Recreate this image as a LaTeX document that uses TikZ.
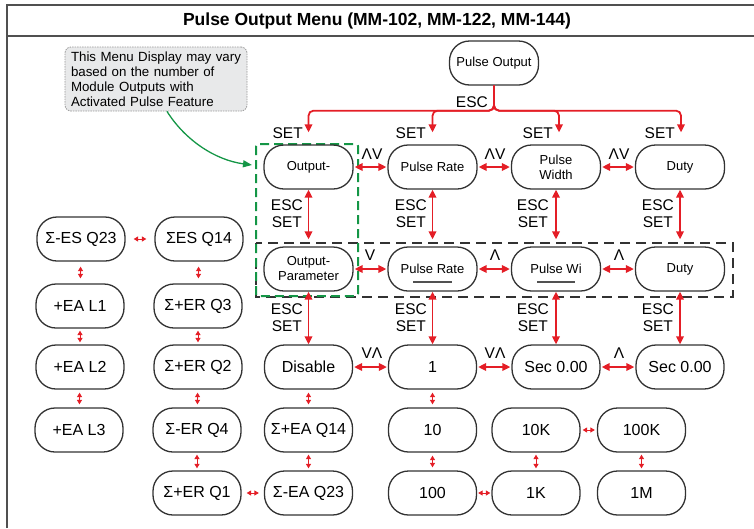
\documentclass[tikz,border=0pt]{standalone}
\usepackage{fontspec}
\setmainfont{Liberation Sans}
\usetikzlibrary{arrows.meta,calc}
\definecolor{ared}{RGB}{228,30,38}
\definecolor{boxline}{RGB}{50,50,50}
\definecolor{dgreen}{RGB}{20,150,70}
\definecolor{framec}{RGB}{80,80,80}
\definecolor{callfill}{RGB}{232,233,234}
\begin{document}
\begin{tikzpicture}[x=1pt,y=-1pt,
  menu/.style={draw=boxline, line width=1.3pt, rounded corners=20pt, minimum width=89pt, minimum height=44pt, align=center, font=\fontsize{13}{15}\selectfont, inner sep=0pt},
  val/.style={menu, font=\fontsize{16}{18}\selectfont, minimum width=88pt},
  lbl/.style={font=\fontsize{15.5}{17}\selectfont, inner sep=0pt, align=center},
  arr/.style={draw=ared, line width=1.8pt, {Triangle[length=8pt,width=7.5pt]}-{Triangle[length=8pt,width=7.5pt]}, shorten >=1pt, shorten <=1pt},
  oarr/.style={draw=ared, line width=1.8pt, -{Triangle[length=8pt,width=7.5pt]}},
  sarr/.style={draw=ared, line width=1pt, {Triangle[length=4.5pt,width=5pt]}-{Triangle[length=4.5pt,width=5pt]}},
  call/.style={draw=gray!80, dash pattern=on 1.5pt off 1pt, line width=0.8pt, fill=callfill, rounded corners=6pt, minimum width=182pt, minimum height=64pt, text width=178pt, align=left, inner xsep=2pt, font=\fontsize{13.3}{15}\selectfont}
]
\useasboundingbox (0,0) rectangle (754,528);
% frame
\draw[framec, line width=2pt] (7,528) -- (7,5) -- (754,5);
\draw[framec, line width=2pt] (7,36) -- (754,36);
\node[font=\bfseries\fontsize{17.5}{20}\selectfont, inner sep=0pt] (title) at (377,21) {Pulse Output Menu (MM-102, MM-122, MM-144)};

% dashed groups
\draw[boxline, line width=2pt, dash pattern=on 10pt off 6pt] (256,243) rectangle (733,297);
\draw[dgreen, line width=2pt, dash pattern=on 9pt off 5pt, rounded corners=2pt] (256,144) rectangle (358,296);

% callout
\node[call] (note) at (156,79) {\hspace*{4pt}This Menu Display may vary\\\hspace*{4pt}based on the number of\\\hspace*{4pt}Module Outputs with\\\hspace*{4pt}Activated Pulse Feature};
\coordinate (gtip) at (252,165);
\draw[dgreen, line width=1.3pt, -{Triangle[length=9pt,width=7pt]}] ([xshift=11pt]note.south) .. controls (185,140) and (215,160) .. (gtip);

% menu nodes
\node[menu] (po) at (494,63) {Pulse Output};
\node[menu] (out1) at (308.5,167) {Output-};
\node[menu] (pr1) at (432.5,167) {Pulse Rate};
\node[menu] (pw1) at (556,167) {Pulse\\Width};
\node[menu] (du1) at (680,167) {Duty};
\node[menu] (out2) at (308.5,269) {Output-\\Parameter};
\node[menu] (pr2) at (432.5,269) {Pulse Rate};
\node[menu] (pw2) at (556,269) {Pulse Wi};
\node[menu] (du2) at (680,269) {Duty};
\draw[boxline!85, line width=1.3pt] ([xshift=-19.5pt,yshift=-13pt]pr2.center) -- ([xshift=19.5pt,yshift=-13pt]pr2.center);
\draw[boxline!85, line width=1.3pt] ([xshift=-19pt,yshift=-13pt]pw2.center) -- ([xshift=19pt,yshift=-13pt]pw2.center);

% value nodes
\node[val] (dis) at (308.5,367) {Disable};
\node[val] (v1) at (432.5,367) {1};
\node[val] (sec1) at (556,367) {Sec 0.00};
\node[val] (sec2) at (680,367) {Sec 0.00};
\node[val] (v10) at (432.5,430) {10};
\node[val] (v10k) at (536,430) {10K};
\node[val] (v100k) at (641.5,430) {100K};
\node[val] (v100) at (432.5,493) {100};
\node[val] (v1k) at (536,493) {1K};
\node[val] (v1m) at (641.5,493) {1M};
\node[val] (eaq14) at (308.5,430) {Σ+EA Q14};
\node[val] (eaq23) at (308.5,493) {Σ-EA Q23};
\node[val] (erq4) at (197,430) {Σ-ER Q4};
\node[val] (erq1) at (197,493) {Σ+ER Q1};
\node[val] (erq2) at (198,367) {Σ+ER Q2};
\node[val] (erq3) at (198,306) {Σ+ER Q3};
\node[val] (esq14) at (199,239) {ΣES Q14};
\node[val] (esq23) at (81,239) {Σ-ES Q23};
\node[val] (l1) at (80,306) {+EA L1};
\node[val] (l2) at (80,367) {+EA L2};
\node[val] (l3) at (79,430) {+EA L3};

% Pulse Output branches
\draw[oarr, rounded corners=5pt] (po.south) -- ++(0,25) -| ([yshift=12pt]out1.north);
\draw[oarr, rounded corners=5pt] (po.south) -- ++(0,25) -| ([yshift=12pt]pr1.north);
\draw[oarr, rounded corners=5pt] (po.south) -- ++(0,25) -| ([xshift=3pt,yshift=12pt]pw1.north);
\draw[oarr, rounded corners=5pt] (po.south) -- ++(0,25) -| ([xshift=1pt,yshift=12pt]du1.north);
\node[lbl, anchor=east] (escT) at (488,102) {ESC};
\node[lbl, anchor=east] (set1) at (303,133) {SET};
\node[lbl, anchor=east] (set2) at (426,133) {SET};
\node[lbl, anchor=east] (set3) at (553,133) {SET};
\node[lbl, anchor=east] (set4) at (675,133) {SET};

% top row horizontal
\draw[arr] (out1.east) -- (pr1.west);
\draw[arr] (pr1.east) -- (pw1.west);
\draw[arr] (pw1.east) -- (du1.west);
\node[lbl] (h1) at (372,154) {ΛV};
\node[lbl] (h2) at (495,154) {ΛV};
\node[lbl] (h3) at (619,154) {ΛV};

% top -> middle
\draw[arr, shorten <=0pt, shorten >=0pt] (out1.south) -- ([yshift=7pt]out2.north);
\draw[arr, shorten <=0pt, shorten >=0pt] (pr1.south) -- ([yshift=7pt]pr2.north);
\draw[arr, shorten <=0pt, shorten >=0pt] (pw1.south) -- ([yshift=7pt]pw2.north);
\draw[arr, shorten <=0pt, shorten >=0pt] (du1.south) -- ([yshift=7pt]du2.north);
\node[lbl, anchor=east] (es1) at (303,213.5) {ESC\\SET};
\node[lbl, anchor=east] (es2) at (427,213.5) {ESC\\SET};
\node[lbl, anchor=east] (es3) at (549,213.5) {ESC\\SET};
\node[lbl, anchor=east] (es4) at (674,213.5) {ESC\\SET};

% middle row horizontal
\draw[arr] (out2.east) -- (pr2.west);
\draw[arr] (pr2.east) -- (pw2.west);
\draw[arr] (pw2.east) -- (du2.west);
\node[lbl] (m1) at (370,255) {V};
\node[lbl] (m2) at (495,255) {Λ};
\node[lbl] (m3) at (619,255) {Λ};

% middle -> value
\draw[arr, shorten <=0pt, shorten >=0pt] (out2.south) -- (dis.north);
\draw[arr, shorten <=0pt, shorten >=0pt] (pr2.south) -- (v1.north);
\draw[arr, shorten <=0pt, shorten >=0pt] (pw2.south) -- (sec1.north);
\draw[arr, shorten <=0pt, shorten >=0pt] (du2.south) -- (sec2.north);
\node[lbl, anchor=east] (ef1) at (303,317.5) {ESC\\SET};
\node[lbl, anchor=east] (ef2) at (427,317.5) {ESC\\SET};
\node[lbl, anchor=east] (ef3) at (549,317.5) {ESC\\SET};
\node[lbl, anchor=east] (ef4) at (674,317.5) {ESC\\SET};

% value row horizontal
\draw[arr] (dis.east) -- (v1.west);
\draw[arr] (v1.east) -- (sec1.west);
\draw[arr] (sec1.east) -- (sec2.west);
\node[lbl] (b1) at (372,353) {VΛ};
\node[lbl] (b2) at (495,353) {VΛ};
\node[lbl] (b3) at (619,353) {Λ};

% small arrows
\draw[sarr, shorten <=3pt, shorten >=3pt] (v1) -- (v10);
\draw[sarr, shorten <=3pt, shorten >=3pt] (v10) -- (v100);
\draw[sarr, shorten <=1pt, shorten >=1pt] (v100) -- (v1k);
\draw[sarr, shorten <=2pt, shorten >=2pt] (v1k) -- (v10k);
\draw[sarr, shorten <=2pt, shorten >=2pt] (v10k) -- (v100k);
\draw[sarr, shorten <=2pt, shorten >=2pt] (v100k) -- (v1m);
\draw[sarr, shorten <=3pt, shorten >=3pt] (dis) -- (eaq14);
\draw[sarr, shorten <=2pt, shorten >=2pt] (eaq14) -- (eaq23);
\draw[sarr, shorten <=5pt, shorten >=5pt] (eaq23) -- (erq1);
\draw[sarr, shorten <=2pt, shorten >=2pt] (erq1) -- (erq4);
\draw[sarr, shorten <=3pt, shorten >=3pt] (erq4) -- (erq2);
\draw[sarr, shorten <=2pt, shorten >=2pt] (erq2) -- (erq3);
\draw[sarr, shorten <=5pt, shorten >=5pt] (erq3) -- (esq14);
\draw[sarr, shorten <=8pt, shorten >=8pt] (esq14) -- (esq23);
\draw[sarr, shorten <=5pt, shorten >=5pt] (esq23) -- (l1);
\draw[sarr, shorten <=2pt, shorten >=2pt] (l1) -- (l2);
\draw[sarr, shorten <=3pt, shorten >=3pt] (l2) -- (l3);
\end{tikzpicture}
\end{document}
